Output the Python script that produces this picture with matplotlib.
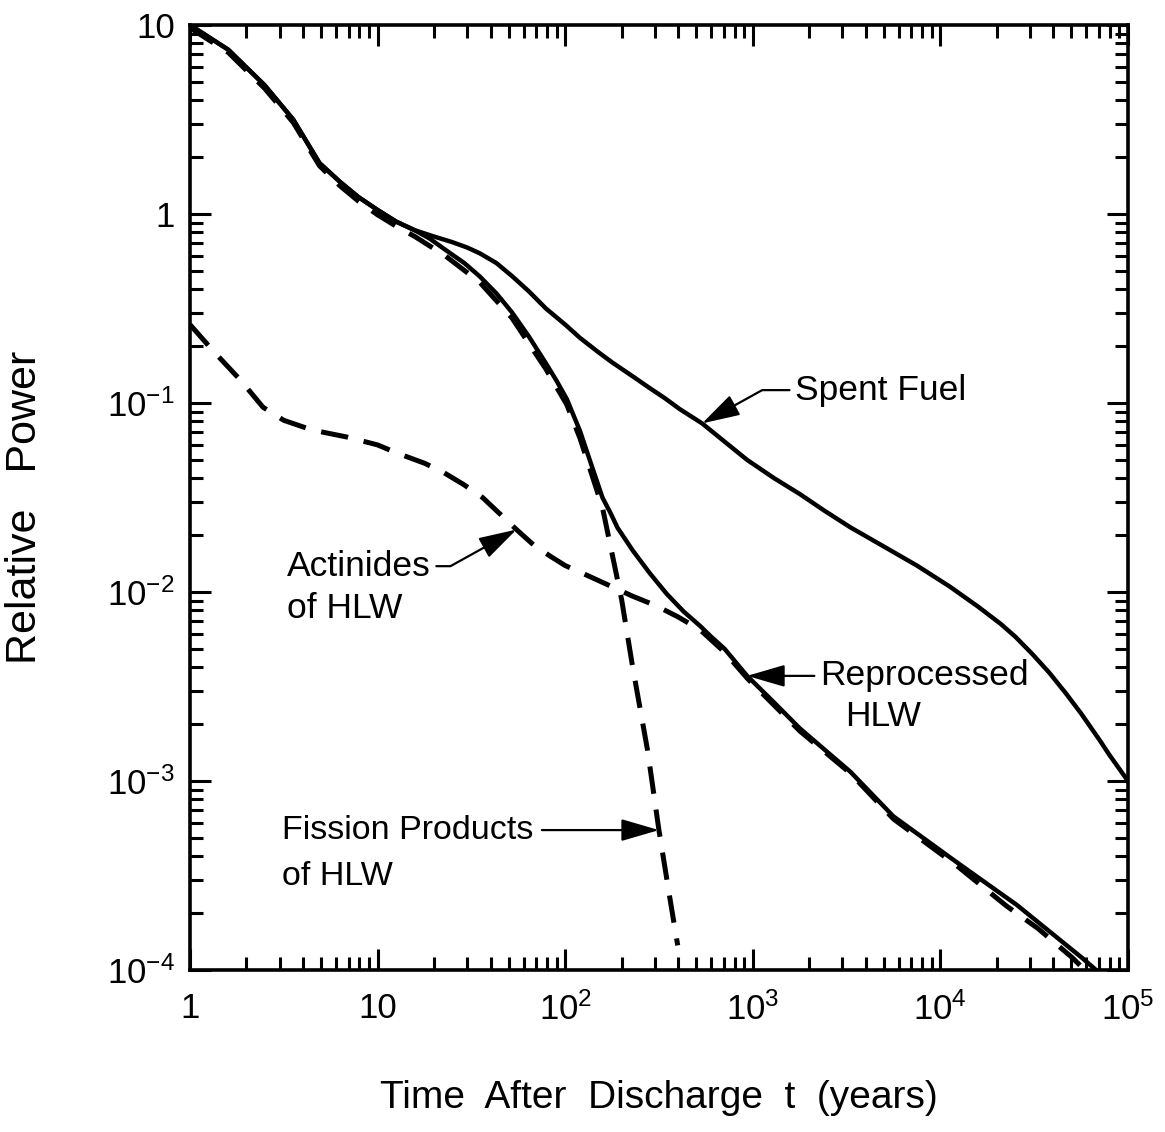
import numpy as np
import matplotlib.pyplot as plt
from matplotlib.ticker import LogLocator, FixedLocator, NullFormatter

plt.rcParams['font.family'] = ['Liberation Sans', 'DejaVu Sans']
plt.rcParams['mathtext.fontset'] = 'custom'
plt.rcParams['mathtext.rm'] = 'Liberation Sans'
plt.rcParams['mathtext.it'] = 'Liberation Sans'

# decay heat relative to power at discharge, t in years
t_spent = [1, 1.6, 2.5, 3.55, 4.9, 6.3, 7.9, 10, 12.6, 15.8,
           20, 25, 30, 35, 43, 52, 64, 79, 100, 120, 150, 178, 230, 282, 340,
           407, 537, 700, 933, 1300, 1780, 2400, 3310, 5000, 7500, 11200,
           15800, 20900, 25100, 30900, 38000, 46800, 56200, 70800, 79400, 100000]
p_spent = [10, 7.4, 4.8, 3.16, 1.86, 1.48, 1.23, 1.05, 0.91, 0.82,
           0.76, 0.71, 0.665, 0.62, 0.55, 0.47, 0.39, 0.316, 0.26, 0.221,
           0.186, 0.164, 0.138, 0.120, 0.106, 0.093, 0.078, 0.063, 0.050,
           0.040, 0.033, 0.027, 0.022, 0.0174, 0.0138, 0.0107, 0.0084,
           0.0068, 0.0058, 0.0047, 0.00375, 0.0029, 0.00228, 0.00164, 0.00138, 0.001]

t_hlw = [1, 1.6, 2.5, 3.55, 4.9, 6.3, 7.9, 10, 12.6, 15.8,
         19, 23, 29, 35, 43, 52, 64, 79, 90, 102, 120, 138, 158, 175, 190, 229,
         282, 347, 427, 525, 600, 708, 933, 1300, 1780, 3310, 5620, 12300,
         25700, 57500, 67600]
p_hlw = [10, 7.4, 4.8, 3.16, 1.86, 1.48, 1.23, 1.05, 0.91, 0.82,
         0.74, 0.646, 0.55, 0.468, 0.38, 0.302, 0.225, 0.162, 0.131, 0.105,
         0.071, 0.047, 0.0316, 0.026, 0.0219, 0.0166, 0.0126, 0.0098, 0.0079,
         0.0066, 0.0058, 0.0050, 0.0036, 0.0026, 0.0019, 0.00112, 0.00065,
         0.00037, 0.00022, 0.000115, 0.0001]

t_fp = [1, 1.6, 2.5, 3.55, 4.9, 6.3, 7.9, 10, 12.6, 15.8, 23, 35, 52, 79,
        102, 120, 158, 200, 229, 275, 316, 363, 398]
p_fp = [9.66, 7.16, 4.62, 3.05, 1.80, 1.41, 1.17, 0.99, 0.86, 0.76, 0.60,
        0.436, 0.282, 0.151, 0.098, 0.065, 0.028, 0.0091, 0.0040, 0.00145,
        0.00055, 0.000234, 0.000135]

t_act = [1, 1.32, 1.86, 2.45, 3.16, 4.47, 6.9, 10, 12.9, 17.8, 22.4, 28.8,
         36.3, 44.7, 55, 67.6, 83, 100, 123, 166, 229, 302, 398, 525, 708, 933,
         1780, 3310, 5620, 12300, 22400, 33100, 50100, 58900]
p_act = [0.26, 0.19, 0.132, 0.095, 0.081, 0.072, 0.066, 0.060, 0.054, 0.048,
         0.043, 0.037, 0.0316, 0.026, 0.0214, 0.0178, 0.0155, 0.0138, 0.0126,
         0.011, 0.0095, 0.0085, 0.0074, 0.0063, 0.0048, 0.0035, 0.00184, 0.0011,
         0.00063, 0.000355, 0.000219, 0.000166, 0.000117, 0.0001]

x_ticks = [1, 10, 1e2, 1e3, 1e4, 1e5]
x_ticklabels = ['1', '10', r'$\mathregular{10^2}$', r'$\mathregular{10^3}$',
                r'$\mathregular{10^4}$', r'$\mathregular{10^5}$']
y_ticks = [1e-4, 1e-3, 1e-2, 1e-1, 1, 10]
y_ticklabels = [r'$\mathregular{10^{-4}}$', r'$\mathregular{10^{-3}}$',
                r'$\mathregular{10^{-2}}$', r'$\mathregular{10^{-1}}$', '1', '10']

fig = plt.figure(figsize=(11.65, 11.32), dpi=100)
ax = fig.add_axes([0.1631, 0.1431, 0.8051, 0.8348])

lw = 3.2
ax.plot(t_spent, p_spent, color='black', lw=lw, solid_joinstyle='round')
ax.plot(t_hlw, p_hlw, color='black', lw=lw, solid_joinstyle='round')
ax.plot(t_fp, p_fp, color='black', lw=3.6, ls=(0, (5.5, 3.2)), dash_capstyle='butt')
ax.plot(t_act, p_act, color='black', lw=3.6, ls=(0, (5.5, 3.2)), dash_capstyle='butt')

ax.set_xscale('log')
ax.set_yscale('log')
ax.set_xlim(1, 1e5)
ax.set_ylim(1e-4, 10)

ax.xaxis.set_major_locator(FixedLocator(x_ticks))
ax.set_xticklabels(x_ticklabels)
ax.yaxis.set_major_locator(FixedLocator(y_ticks))
ax.set_yticklabels(y_ticklabels)
for axis in (ax.xaxis, ax.yaxis):
    axis.set_minor_locator(LogLocator(base=10, subs=np.arange(2, 10), numticks=20))
    axis.set_minor_formatter(NullFormatter())

ax.tick_params(which='both', direction='in', top=True, right=True,
               width=2.2, labelsize=25)
ax.tick_params(axis='x', pad=16)
ax.tick_params(axis='y', pad=11)
ax.tick_params(which='major', length=15)
ax.tick_params(which='minor', length=9.5)
for s in ax.spines.values():
    s.set_linewidth(2.6)

ax.set_xlabel('Time  After  Discharge  t  (years)', fontsize=28, labelpad=38)
ax.set_ylabel('Relative   Power', fontsize=31)
ax.yaxis.set_label_coords(-0.155, 0.49)

arrow = dict(arrowstyle='-|>,head_length=1.3,head_width=0.38', color='black',
             lw=1.6, mutation_scale=18, shrinkA=2, shrinkB=0)
fs = 25.5

ax.annotate('Spent Fuel', xy=(t_spent[26], p_spent[26]), xytext=(1680, 0.117),
            ha='left', va='center', fontsize=fs,
            arrowprops=dict(arrow, relpos=(0, 0.5),
                            connectionstyle='angle,angleA=0,angleB=29,rad=0'))

ax.annotate('Reprocessed', xy=(t_hlw[32], p_hlw[32]), xytext=(2280, p_hlw[32]),
            ha='left', va='center', fontsize=fs,
            arrowprops=dict(arrow, relpos=(0, 0.5)))
ax.text(3100, 0.0022, 'HLW', ha='left', va='center', fontsize=fs)

ax.annotate('Actinides', xy=(t_act[14], p_act[14]), xytext=(3.29, 0.0137),
            ha='left', va='center', fontsize=fs,
            arrowprops=dict(arrow, relpos=(1, 0.5),
                            connectionstyle='angle,angleA=0,angleB=29,rad=0'))
ax.text(3.29, 0.0082, 'of HLW', ha='left', va='center', fontsize=fs)

ax.annotate('Fission Products', xy=(t_fp[20], p_fp[20]), xytext=(3.1, p_fp[20]),
            ha='left', va='center', fontsize=fs - 1,
            arrowprops=dict(arrow, relpos=(1, 0.5), shrinkA=4))
ax.text(3.1, 3.14e-4, 'of HLW', ha='left', va='center', fontsize=fs - 1)

fig.savefig('out.png', dpi=100)
